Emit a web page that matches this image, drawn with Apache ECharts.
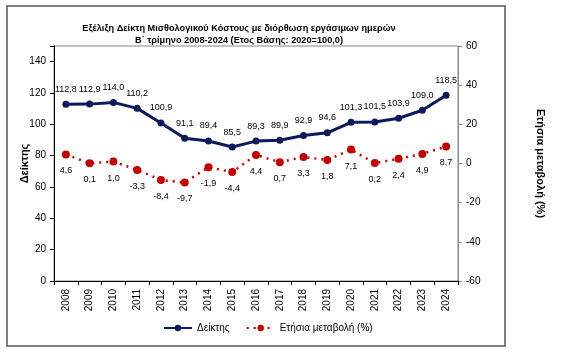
<!DOCTYPE html>
<html><head><meta charset="utf-8">
<script src="https://cdn.jsdelivr.net/npm/echarts@6/dist/echarts.min.js"></script>
<style>html,body{margin:0;padding:0;background:#fff}#c{width:578px;height:359px}</style>
</head><body><div id="c"></div>
<script>
const years = ['2008','2009','2010','2011','2012','2013','2014','2015','2016','2017','2018','2019','2020','2021','2022','2023','2024'];
const indexValues = [112.8,112.9,114.0,110.2,100.9,91.1,89.4,85.5,89.3,89.9,92.9,94.6,101.3,101.5,103.9,109.0,118.5];
const changeValues = [4.6,0.1,1.0,-3.3,-8.4,-9.7,-1.9,-4.4,4.4,0.7,3.3,1.8,7.1,0.2,2.4,4.9,8.7];
const titleLines = ['Εξέλιξη Δείκτη Μισθολογικού Κόστους με διόρθωση εργάσιμων ημερών','Β΄ τρίμηνο 2008-2024 (Ετος Βάσης: 2020=100,0)'];

const fmt = v => v.toFixed(1).replace('.', ',');
const chart = echarts.init(document.getElementById('c'), null, {renderer:'canvas'});
const F = 'Liberation Sans, Arial, sans-serif';
chart.setOption({
  animation:false,
  backgroundColor:'#fff',
  textStyle:{fontFamily:F},
  title:{
    text: titleLines.join('\n'), left:234, top:17, textAlign:'center',
    textStyle:{fontSize:9.2, fontWeight:'bold', color:'#000', lineHeight:12.5, fontFamily:F}
  },
  graphic:[{type:'rect', shape:{x:7,y:6,width:498,height:340}, style:{fill:'none', stroke:'#555', lineWidth:1.5}, z:-1}],
  grid:{left:54, right:120, top:46, bottom:78, show:true, borderColor:'#888', borderWidth:1},
  legend:{
    bottom:21, left:158, itemGap:16, itemWidth:28, itemHeight:8,
    textStyle:{fontSize:10, color:'#000', fontFamily:F},
    data:['Δείκτης','Ετήσια μεταβολή (%)']
  },
  xAxis:{
    type:'category', data:years, boundaryGap:true,
    axisLine:{lineStyle:{color:'#000'}},
    axisTick:{show:true, length:4, lineStyle:{color:'#000'}},
    axisLabel:{rotate:90, fontSize:10, color:'#000', margin:8}
  },
  yAxis:[{
    type:'value', min:0, max:150, interval:20,
    name:'Δείκτης', nameLocation:'middle', nameRotate:90, nameGap:24, nameMoveOverlap:false,
    nameTextStyle:{fontSize:11, fontWeight:'bold', color:'#000'},
    axisLine:{show:true, lineStyle:{color:'#000'}},
    axisTick:{show:true, length:4, lineStyle:{color:'#000'}},
    splitLine:{show:false},
    axisLabel:{fontSize:10, color:'#000', margin:8, formatter:v=> v===150?'':String(v)}
  },{
    type:'value', min:-60, max:60, interval:20, position:'right',
    name:'Ετήσια μεταβολή (%)', nameLocation:'middle', nameRotate:-90, nameGap:77,
    nameTextStyle:{fontSize:11, fontWeight:'bold', color:'#000'},
    axisLine:{show:true, lineStyle:{color:'#888'}},
    axisTick:{show:true, length:4, lineStyle:{color:'#888'}},
    splitLine:{show:false},
    axisLabel:{fontSize:10, color:'#000', margin:8}
  }],
  series:[{
    name:'Δείκτης', type:'line', yAxisIndex:0, data:indexValues,
    symbol:'circle', symbolSize:7,
    lineStyle:{color:'#0c1a5c', width:3},
    itemStyle:{color:'#0c1a5c'},
    label:{show:true, position:'top', distance:7, fontSize:9, color:'#000', formatter:p=>fmt(p.value)}
  },{
    name:'Ετήσια μεταβολή (%)', type:'line', yAxisIndex:1, data:changeValues,
    symbol:'circle', symbolSize:8,
    lineStyle:{color:'#c00000', width:2.5, type:[2,5]},
    itemStyle:{color:'#c00000'},
    label:{show:true, position:'bottom', distance:8, fontSize:9, color:'#000', formatter:p=>fmt(p.value)}
  }]
});
</script></body></html>
